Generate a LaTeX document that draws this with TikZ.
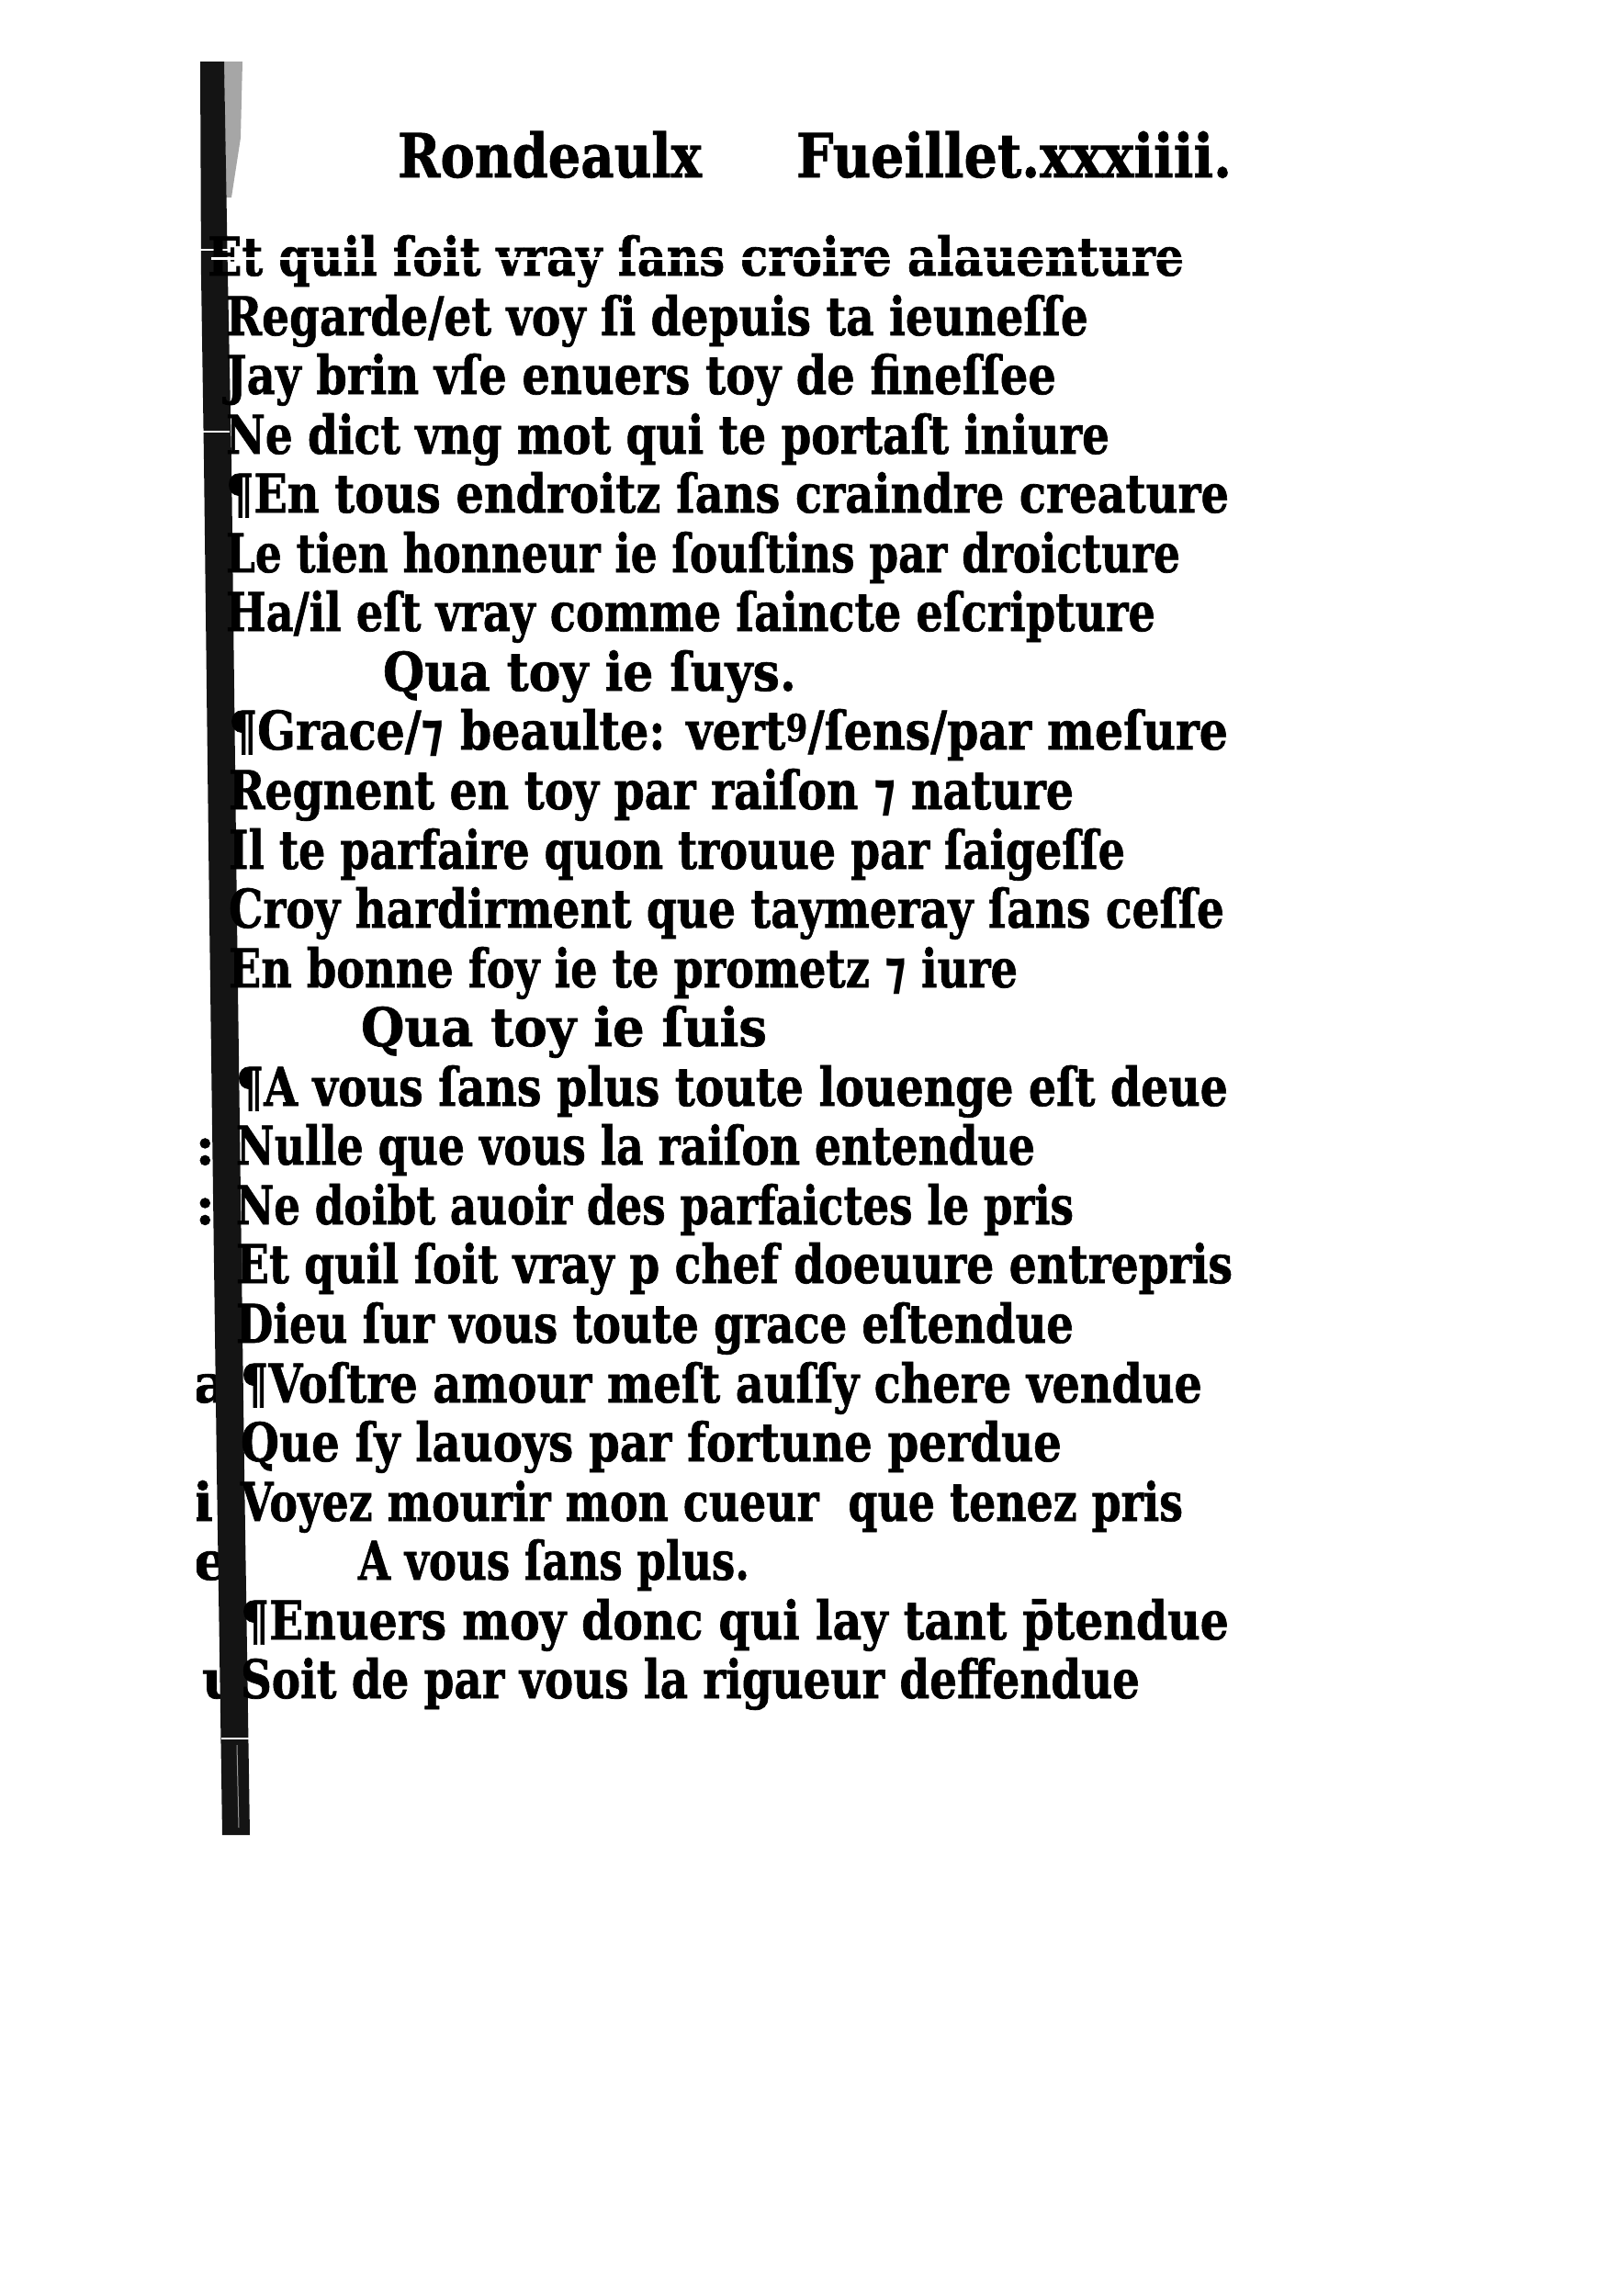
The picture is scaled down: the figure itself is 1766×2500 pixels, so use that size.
\documentclass[tikz,border=0pt]{standalone}
\usepackage{fontspec}
\usepackage{graphicx}
\newfontfamily\bodyf[FakeBold=1.2]{DejaVu Serif}
\newfontfamily\symf{DejaVu Sans}
\newcommand{\tet}{{\symf\bfseries ⁊}}
\newcommand{\bodyfont}{\bodyf\bfseries\fontsize{58}{64}\selectfont}
\newcommand{\headfont}{\bodyf\bfseries\fontsize{66}{72}\selectfont}
\newcommand{\fitw}[2]{\resizebox{#1pt}{\height}{#2}}
\begin{document}
\begin{tikzpicture}[x=1pt,y=-1pt,
  txt/.style={inner sep=0pt,outer sep=0pt,anchor=base west,font=\bodyfont},
  head/.style={inner sep=0pt,outer sep=0pt,anchor=base west,font=\headfont},
  marg/.style={inner sep=0pt,outer sep=0pt,anchor=base east,font=\bodyfont}]
\useasboundingbox (0,0) rectangle (1766,2500);
\fill[white] (0,0) rectangle (1766,2500);
% fragments of the facing page, left of the bar
\begin{scope}
\clip (214,0) rectangle (300,2500);
\node[marg] (m16) at (234,1268) {:};
\node[marg] (m17) at (234,1333) {:};
\node[marg] (m20) at (248,1527) {a};
\node[marg] (m22) at (232,1656) {i};
\node[marg] (m23) at (248,1720) {e};
\node[marg] (m25) at (262,1849) {u};
\end{scope}
% binding bar
\fill[black!35] (244,67) -- (264,67) -- (262,150) -- (252,215) -- (246,215) -- cycle;
\fill[black!92] (218,67) -- (244,67) -- (248,300) -- (252,500) -- (258,1000) -- (266,1600) -- (272,1998)
   -- (242,1998) -- (236,1600) -- (228,1000) -- (222,500) -- (219,300) -- cycle;
\draw[white,line width=2pt] (218,272) -- (262,272);
\draw[white,line width=1.5pt] (218,470) -- (250,470);
\draw[white,line width=2pt] (241,1893) -- (272,1893);
\draw[white!60!black,line width=1pt] (258,1900) -- (260,1990);
% running head
\node[head] (h1) at (433,193) {\fitw{331}{Rondeaulx}};
\node[head] (h2) at (867,193) {\fitw{474}{Fueillet.xxxiiii.}};
% text
\node[txt] (l1) at (226,300) {\fitw{1063}{Et quil ſoit vray ſans croire alauenture}};
\draw[white,line width=3pt] (230,281) -- (1300,281);
\node[txt] (l2) at (246,365) {\fitw{939}{Regarde/et voy ſi depuis ta ieuneſſe}};
\node[txt] (l3) at (246,429) {\fitw{904}{Jay brin vſe enuers toy de fineſſee}};
\node[txt] (l4) at (246,494) {\fitw{962}{Ne dict vng mot qui te portaſt iniure}};
\node[txt] (l5) at (246,558) {\fitw{1092}{¶En tous endroitz ſans craindre creature}};
\node[txt] (l6) at (246,623) {\fitw{1039}{Le tien honneur ie ſouſtins par droicture}};
\node[txt] (l7) at (246,687) {\fitw{1012}{Ha/il eſt vray comme ſaincte eſcripture}};
\node[txt] (l8) at (417,752) {\fitw{450}{Qua toy ie ſuys.}};
\node[txt] (l9) at (249,816) {\fitw{1088}{¶Grace/\tet\ beaulte: vert\textsuperscript{9}/ſens/par meſure}};
\node[txt] (l10) at (249,881) {\fitw{920}{Regnent en toy par raiſon \tet\ nature}};
\node[txt] (l11) at (249,946) {\fitw{976}{Il te parfaire quon trouue par ſaigeſſe}};
\node[txt] (l12) at (249,1010) {\fitw{1084}{Croy hardirment que taymeray ſans ceſſe}};
\node[txt] (l13) at (249,1075) {\fitw{859}{En bonne foy ie te prometz \tet\ iure}};
\node[txt] (l14) at (393,1139) {\fitw{442}{Qua toy ie ſuis}};
\node[txt] (l15) at (257,1204) {\fitw{1080}{¶A vous ſans plus toute louenge eſt deue}};
\node[txt] (l16) at (257,1268) {\fitw{870}{Nulle que vous la raiſon entendue}};
\node[txt] (l17) at (257,1333) {\fitw{912}{Ne doibt auoir des parfaictes le pris}};
\node[txt] (l18) at (257,1397) {\fitw{1085}{Et quil ſoit vray p chef doeuure entrepris}};
\node[txt] (l19) at (257,1462) {\fitw{912}{Dieu ſur vous toute grace eſtendue}};
\node[txt] (l20) at (262,1527) {\fitw{1047}{¶Voſtre amour meſt auſſy chere vendue}};
\node[txt] (l21) at (262,1591) {\fitw{894}{Que ſy lauoys par fortune perdue}};
\node[txt] (l22) at (262,1656) {\fitw{1026}{Voyez mourir mon cueur\ \ que tenez pris}};
\node[txt] (l23) at (390,1720) {\fitw{426}{A vous ſans plus.}};
\node[txt] (l24) at (262,1785) {\fitw{1076}{¶Enuers moy donc qui lay tant \={p}tendue}};
\node[txt] (l25) at (262,1849) {\fitw{979}{Soit de par vous la rigueur deffendue}};
\end{tikzpicture}
\end{document}
